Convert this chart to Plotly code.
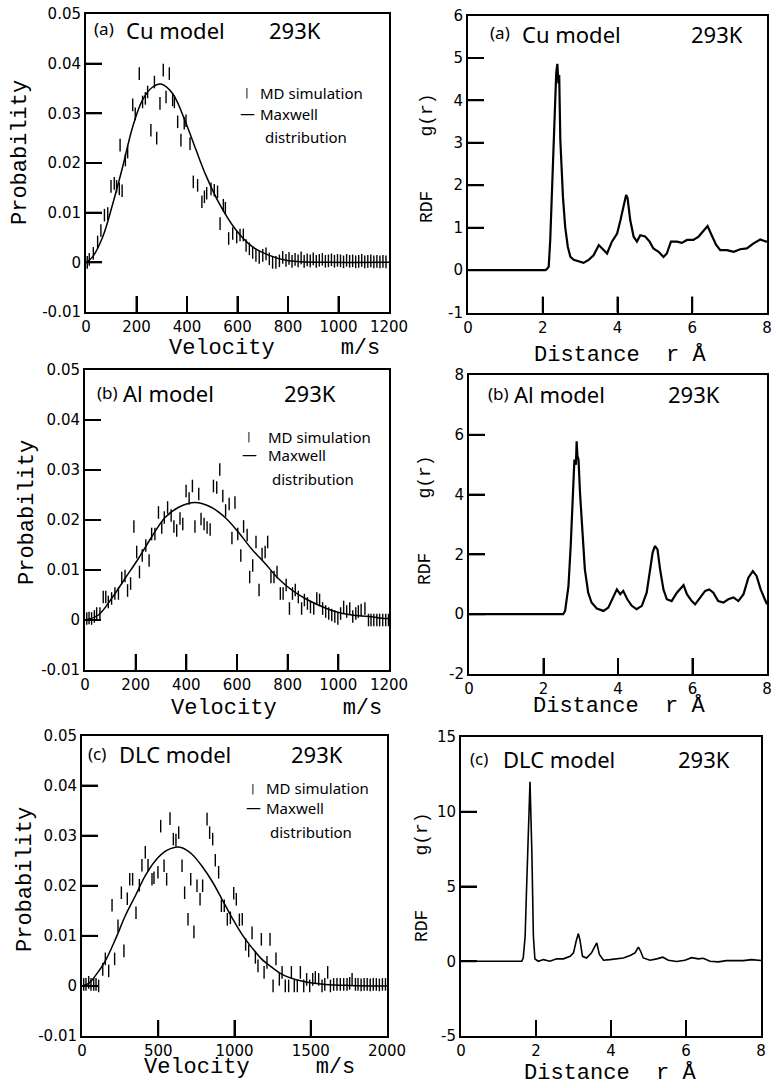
import plotly.graph_objects as go

W, H = 781, 1088

# ---------------- data: velocity distributions ----------------
cu_md_v = [5, 13, 29, 46, 59, 73, 86, 99, 112, 121, 132, 135, 143, 156, 165, 185, 195, 211, 224, 235,
           244, 257, 271, 280, 293, 306, 317, 330, 343, 350, 363, 376, 389, 396, 412, 425, 442, 459, 469, 478,
           495, 508, 521, 531, 544, 552, 565, 581, 597, 610, 623, 634, 647, 660, 673, 686, 700, 713, 726, 739,
           752, 766, 779, 792, 804, 816, 828, 840, 852, 864, 876, 888, 900, 912, 924, 936, 948, 960, 972, 984,
           996, 1008, 1020, 1032, 1044, 1056, 1068, 1080, 1092, 1104, 1116, 1128, 1140, 1152, 1164, 1176, 1188]
cu_md_p = [0.0, 0.0006, 0.0018, 0.0041, 0.0064, 0.0095, 0.0098, 0.0153, 0.0159, 0.0153,
           0.0148, 0.0236, 0.0144, 0.0206, 0.0222, 0.0317, 0.0299, 0.0380, 0.0323, 0.0330,
           0.0343, 0.0266, 0.0363, 0.0250, 0.0320, 0.0387, 0.0333, 0.0380, 0.0327, 0.0323,
           0.0283, 0.0246, 0.0280, 0.0285, 0.0239, 0.0162, 0.0155, 0.0122, 0.0132, 0.0139,
           0.0148, 0.0145, 0.0142, 0.0078, 0.0115, 0.0109, 0.0048, 0.0058, 0.0051, 0.0055,
           0.0055, 0.0034, 0.0027, 0.0020, 0.0014, 0.0010, 0.0014, 0.0017, 0.0007, 0.0000,
           0.0000, 0.0003, 0.0010,
           0.0004, 0.0008, 0.0002, 0.0006, 0.0003, 0.0009, 0.0002, 0.0005, 0.0003, 0.0007,
           0.0002, 0.0004, 0.0006, 0.0002, 0.0003, 0.0005, 0.0002, 0.0004, 0.0003, 0.0001,
           0.0004, 0.0002, 0.0003, 0.0001, 0.0002, 0.0004, 0.0001, 0.0002, 0.0003, 0.0001,
           0.0002, 0.0001, 0.0002, 0.0001]
cu_mx_v = [0, 26, 66, 106, 145, 185, 224, 264, 297, 343, 396, 436, 475, 528, 594, 660, 726, 792, 850, 950, 1200]
cu_mx_p = [0, 0.0011, 0.0051, 0.0118, 0.0192, 0.0273, 0.0327, 0.0353, 0.0359, 0.0340, 0.0280,
           0.0226, 0.0175, 0.0118, 0.0065, 0.0031, 0.0014, 0.0004, 0.0001, 0.0, 0.0]

al_md_v = [7, 16, 26, 37, 46, 59, 72, 82, 92, 105, 118, 132, 145, 158, 168, 180, 193, 204, 215, 226,
           240, 253, 263, 276, 290, 303, 313, 326, 340, 351, 362, 375, 386, 399, 411, 424, 434, 449, 458, 470,
           482, 494, 507, 520, 532, 544, 555, 569, 580, 592, 603, 615, 626, 640, 650, 662, 675, 687, 699, 711,
           721, 734, 746, 758, 771, 782, 794, 807, 819, 830, 842, 855, 866, 878, 890, 903, 915, 926, 938, 950,
           962, 974, 986, 998, 1009, 1021, 1033, 1045, 1057, 1069, 1079, 1090, 1105, 1119, 1129, 1140, 1152,
           1163, 1175, 1187, 1198]
al_md_p = [0.0003, 0.0004, 0.0003, 0.0007, 0.0013, 0.0013, 0.0046, 0.0046, 0.0036, 0.0043,
           0.0053, 0.0053, 0.0084, 0.0088, 0.0059, 0.0073, 0.0187, 0.0136, 0.0096, 0.0129,
           0.0149, 0.0119, 0.0172, 0.0172, 0.0215, 0.0185, 0.0205, 0.0225, 0.0209, 0.0187,
           0.0179, 0.0203, 0.0192, 0.0258, 0.0243, 0.0268, 0.0187, 0.0252, 0.0202, 0.0192,
           0.0185, 0.0181, 0.0268, 0.0265, 0.0301, 0.0248, 0.0219, 0.0232, 0.0164, 0.0235,
           0.0172, 0.0129, 0.0187, 0.0170, 0.0086, 0.0109, 0.0156, 0.0060, 0.0132, 0.0136,
           0.0156, 0.0086, 0.0086, 0.0096, 0.0053, 0.0053, 0.0070, 0.0023, 0.0053, 0.0060,
           0.0046, 0.0023, 0.0040, 0.0033, 0.0026, 0.0023, 0.0043, 0.0040, 0.0023, 0.0017,
           0.0013, 0.0010, 0.0007, 0.0003, 0.0013, 0.0026, 0.0017, 0.0023, 0.0007, 0.0013,
           0.0017, 0.0020, 0.0023, 0.0000, 0.0000, 0.0000, 0.0000, 0.0000, 0.0000, 0.0000, 0.0000]
al_mx_v = [0, 53, 105, 158, 211, 263, 316, 368, 434, 500, 553, 605, 658, 711, 763, 816, 869, 921,
           987, 1053, 1119, 1184, 1200]
al_mx_p = [0, 0.0010, 0.0043, 0.0083, 0.0123, 0.0166, 0.0205, 0.0225, 0.0235, 0.0225, 0.0205,
           0.0176, 0.0142, 0.0113, 0.0083, 0.0060, 0.0043, 0.0030, 0.0017, 0.0010, 0.0007, 0.0003, 0.0003]

dlc_md_v = [11, 26, 44, 59, 77, 92, 109, 136, 153, 175, 197, 214, 236, 258, 275, 297, 313, 332, 354, 376,
            393, 415, 433, 459, 472, 498, 516, 538, 555, 577, 599, 616, 634, 656, 673, 695, 713, 734, 754, 774,
            791, 820, 837, 857, 874, 896, 914, 933, 953, 973, 995, 1012, 1032, 1051, 1073, 1093, 1115, 1137,
            1154, 1176, 1194, 1213, 1233, 1253, 1272, 1294, 1312, 1333, 1355, 1373, 1392, 1412, 1432, 1454,
            1473, 1493, 1513, 1530, 1552, 1574, 1592, 1611, 1629, 1650, 1672, 1694, 1716, 1738, 1755, 1771,
            1793, 1810, 1830, 1850, 1870, 1890, 1910, 1930, 1950, 1970, 1990]
dlc_md_p = [0.0003, 0.0003, 0.0007, 0.0003, 0.0003, 0.0003, 0.0000, 0.0033, 0.0054, 0.0030,
            0.0161, 0.0054, 0.0120, 0.0186, 0.0070, 0.0174, 0.0213, 0.0213, 0.0146, 0.0201,
            0.0241, 0.0267, 0.0241, 0.0213, 0.0216, 0.0227, 0.0319, 0.0240, 0.0213, 0.0334,
            0.0293, 0.0291, 0.0306, 0.0240, 0.0186, 0.0133, 0.0213, 0.0108, 0.0200, 0.0173,
            0.0200, 0.0333, 0.0306, 0.0293, 0.0251, 0.0227, 0.0160, 0.0160, 0.0133, 0.0136,
            0.0185, 0.0173, 0.0132, 0.0133, 0.0083, 0.0070, 0.0106, 0.0057, 0.0040, 0.0093,
            0.0027, 0.0047, 0.0093, 0.0000, 0.0054, 0.0013, 0.0027, 0.0000, 0.0000, 0.0027,
            0.0000, 0.0000, 0.0027, 0.0000, 0.0013, 0.0000, 0.0013, 0.0017, 0.0013, 0.0000,
            0.0003, 0.0027, 0.0000, 0.0003, 0.0003, 0.0003, 0.0003, 0.0003, 0.0005, 0.0013,
            0.0003, 0.0003, 0.0002, 0.0003, 0.0003, 0.0002, 0.0003, 0.0003, 0.0002, 0.0003, 0.0003]
dlc_mx_v = [0, 44, 87, 153, 219, 284, 350, 415, 481, 547, 612, 656, 721, 787, 853, 918, 984, 1049,
            1115, 1180, 1246, 1312, 1399, 1486, 1596, 1749, 2000]
dlc_mx_p = [0, 0.0005, 0.0020, 0.0050, 0.0093, 0.0140, 0.0180, 0.0220, 0.0250, 0.0269, 0.0277,
            0.0276, 0.0263, 0.0239, 0.0209, 0.0173, 0.0136, 0.0103, 0.0076, 0.0053, 0.0037, 0.0023,
            0.0013, 0.0007, 0.0003, 0.0001, 0.0]

# ---------------- data: radial distribution functions ----------------
cu_r = [0, 2.07, 2.11, 2.16, 2.2, 2.25, 2.31, 2.36, 2.39, 2.42, 2.44, 2.47, 2.54, 2.6, 2.67, 2.74, 2.83,
        2.96, 3.09, 3.23, 3.36, 3.5, 3.59, 3.72, 3.85, 3.99, 4.08, 4.17, 4.23, 4.27, 4.34, 4.43, 4.52, 4.61,
        4.74, 4.86, 4.96, 5.1, 5.23, 5.32, 5.43, 5.59, 5.72, 5.86, 6.03, 6.17, 6.3, 6.41, 6.52, 6.64, 6.75,
        6.93, 7.11, 7.28, 7.46, 7.64, 7.82, 7.97, 8.0]
cu_g = [0, 0, 0.02, 0.08, 0.71, 1.89, 3.22, 4.64, 4.86, 4.4, 4.6, 3.07, 1.73, 1.02, 0.55, 0.31, 0.24,
        0.2, 0.17, 0.24, 0.35, 0.59, 0.51, 0.39, 0.67, 0.86, 1.18, 1.57, 1.77, 1.69, 1.18, 0.79, 0.67, 0.82,
        0.79, 0.67, 0.51, 0.43, 0.31, 0.39, 0.67, 0.67, 0.64, 0.71, 0.71, 0.79, 0.94, 1.04, 0.82, 0.59, 0.47,
        0.47, 0.43, 0.49, 0.51, 0.63, 0.72, 0.67, 0.68]

al_r = [0, 2.53, 2.58, 2.67, 2.73, 2.78, 2.83, 2.87, 2.89, 2.91, 2.94, 2.98, 3.05, 3.11, 3.2, 3.29, 3.43,
        3.61, 3.74, 3.86, 3.97, 4.06, 4.14, 4.25, 4.37, 4.5, 4.64, 4.77, 4.86, 4.93, 4.99, 5.06, 5.13, 5.22,
        5.31, 5.44, 5.58, 5.69, 5.76, 5.85, 5.98, 6.07, 6.2, 6.34, 6.45, 6.56, 6.69, 6.83, 6.96, 7.1, 7.23,
        7.37, 7.5, 7.62, 7.72, 7.83, 7.94, 8.0]
al_g = [0, 0, 0.11, 0.94, 2.28, 4.06, 5.17, 5.0, 5.78, 5.3, 5.17, 4.06, 2.5, 1.5, 0.72, 0.39, 0.19,
        0.11, 0.22, 0.56, 0.83, 0.67, 0.78, 0.5, 0.28, 0.17, 0.28, 0.72, 1.39, 2.06, 2.28, 2.17, 1.5, 0.83,
        0.5, 0.44, 0.72, 0.89, 0.97, 0.67, 0.44, 0.33, 0.56, 0.78, 0.83, 0.72, 0.44, 0.39, 0.5, 0.56, 0.44,
        0.67, 1.22, 1.44, 1.28, 0.83, 0.5, 0.33]

dlc_r = [0, 1.62, 1.66, 1.71, 1.75, 1.8, 1.84, 1.89, 1.93, 1.97, 2.06, 2.2, 2.37, 2.55, 2.73, 2.91, 3.0,
         3.07, 3.13, 3.17, 3.24, 3.35, 3.48, 3.57, 3.62, 3.69, 3.8, 3.97, 4.15, 4.33, 4.51, 4.64, 4.73, 4.79,
         4.86, 5.04, 5.22, 5.38, 5.53, 5.75, 5.97, 6.15, 6.33, 6.46, 6.64, 6.86, 7.08, 7.3, 7.53, 7.75, 7.93, 8.0]
dlc_g = [0, 0, 0.22, 1.67, 5.0, 9.47, 12.0, 7.24, 1.67, 0.16, 0, 0.11, 0, 0.16, 0.16, 0.33, 0.56,
         1.34, 1.85, 1.45, 0.33, 0.22, 0.56, 1.0, 1.23, 0.45, 0.07, 0.11, 0.16, 0.22, 0.38, 0.56, 0.94, 0.67,
         0.22, 0.07, 0.16, 0.27, 0.07, -0.02, 0.07, 0.24, 0.16, 0.2, 0, -0.04, 0.04, 0.02, 0.04, 0.11, 0.07, 0.05]

# tick labels
prob_ticks = [-0.01, 0, 0.01, 0.02, 0.03, 0.04, 0.05]
prob_text = ["-0.01", "0", "0.01", "0.02", "0.03", "0.04", "0.05"]
vel_ticks_12 = [0, 200, 400, 600, 800, 1000, 1200]
vel_ticks_20 = [0, 500, 1000, 1500, 2000]
r_ticks = [0, 2, 4, 6, 8]

# ---------------- figure ----------------
fig = go.Figure()


def px_x(p):
    return p / W


def px_y(p):
    return 1 - p / H


# panel frames (pixel boxes: left, right, top, bottom)
boxes = {
    1: (86, 389, 14, 312),
    2: (468, 767, 15.5, 312.5),
    3: (85, 389, 370, 670),
    4: (469, 767, 375, 674),
    5: (82, 387, 735.5, 1036),
    6: (461, 761, 737, 1036),
}

tickfont = dict(family="DejaVu Sans", size=15, color="black")
base = dict(showline=True, linewidth=2, linecolor="black", mirror=True,
            ticks="inside", ticklen=16, tickwidth=2, tickcolor="black", tickmode="array",
            showgrid=False, zeroline=False, tickfont=tickfont, layer="above traces")

ranges = {
    1: ([0, 1200], vel_ticks_12, [-0.01, 0.05], prob_ticks, prob_text),
    2: ([0, 8], r_ticks, [-1, 6], [-1, 0, 1, 2, 3, 4, 5, 6], None),
    3: ([0, 1200], vel_ticks_12, [-0.01, 0.05], prob_ticks, prob_text),
    4: ([0, 8], r_ticks, [-2, 8], [-2, 0, 2, 4, 6, 8], None),
    5: ([0, 2000], vel_ticks_20, [-0.01, 0.05], prob_ticks, prob_text),
    6: ([0, 8], r_ticks, [-5, 15], [-5, 0, 5, 10, 15], None),
}

TICK_PX = 16


def axes_of(i):
    return ("x", "y") if i == 1 else (f"x{i}", f"y{i}")


for i, (l, r, t, b) in boxes.items():
    xr, xt, yr, yt, ytt = ranges[i]
    xn = "xaxis" if i == 1 else f"xaxis{i}"
    yn = "yaxis" if i == 1 else f"yaxis{i}"
    fig.layout[xn] = dict(base, domain=[px_x(l), px_x(r)], range=xr, tickvals=xt,
                          ticktext=[str(v) for v in xt], anchor="y" if i == 1 else f"y{i}")
    fig.layout[yn] = dict(base, domain=[px_y(b), px_y(t)], range=yr, tickvals=yt,
                          ticktext=ytt if ytt else [str(v) for v in yt], anchor="x" if i == 1 else f"x{i}")
    # inward tick marks drawn along the bottom and left frame at the tick values
    xa, ya = axes_of(i)
    for v in xt[1:-1]:
        fig.add_shape(type="line", xref=xa, yref=f"{ya} domain", x0=v, x1=v, y0=0,
                      y1=TICK_PX / (b - t), line=dict(color="black", width=2), layer="above")
    for v in yt[1:-1]:
        fig.add_shape(type="line", yref=ya, xref=f"{xa} domain", y0=v, y1=v, x0=0,
                      x1=TICK_PX / (r - l), line=dict(color="black", width=2), layer="above")

md_marker = dict(symbol="line-ns", size=9, color="black", line=dict(color="black", width=1.4))


def add_velocity(i, mdv, mdp, mxv, mxp):
    xa, ya = axes_of(i)
    fig.add_trace(go.Scatter(x=mdv, y=mdp, mode="markers", marker=md_marker, xaxis=xa, yaxis=ya,
                             showlegend=False, name="MD simulation"))
    fig.add_trace(go.Scatter(x=mxv, y=mxp, mode="lines", line=dict(color="black", width=1.5, shape="spline"),
                             xaxis=xa, yaxis=ya, showlegend=False, name="Maxwell distribution"))


def add_rdf(i, r, g, w):
    xa, ya = axes_of(i)
    fig.add_trace(go.Scatter(x=r, y=g, mode="lines", line=dict(color="black", width=w),
                             xaxis=xa, yaxis=ya, showlegend=False, name="g(r)"))


add_velocity(1, cu_md_v, cu_md_p, cu_mx_v, cu_mx_p)
add_rdf(2, cu_r, cu_g, 2.2)
add_velocity(3, al_md_v, al_md_p, al_mx_v, al_mx_p)
add_rdf(4, al_r, al_g, 2.2)
add_velocity(5, dlc_md_v, dlc_md_p, dlc_mx_v, dlc_mx_p)
add_rdf(6, dlc_r, dlc_g, 1.6)

SANS = "Noto Sans"
MONO = "Liberation Mono"
NB = "\u00a0"


def ann(x, y, text, size, family=SANS, xanchor="left", angle=0):
    fig.add_annotation(x=px_x(x), y=px_y(y), xref="paper", yref="paper", text=text,
                       showarrow=False, xanchor=xanchor, yanchor="middle", textangle=angle,
                       font=dict(family=family, size=size, color="black"))


# panel labels
labels = [
    (92, 124, 267, 29, "(a)", "Cu model"),
    (488, 520, 689, 33, "(a)", "Cu model"),
    (95, 121, 282, 392, "(b)", "Al model"),
    (486, 512, 666, 393, "(b)", "Al model"),
    (86, 117, 289, 753, "(c)", "DLC model"),
    (468, 501, 676, 758, "(c)", "DLC model"),
]
for xa, xb, xc, y, tag, name in labels:
    ann(xa, y, tag, 17)
    ann(xb, y + 1, name, 22)
    ann(xc, y + 1, "293K", 22)

# legends (left panels)
legends = [(247, 93, 114, 137, 238, 258, 263), (249, 437, 455, 479, 240, 266, 270),
           (253, 788, 808, 832, 244, 264, 268)]
for mx, y1, y2, y3, lx, tx, dx in legends:
    ann(mx, y1, "|", 11, family="DejaVu Sans", xanchor="center")
    ann(tx, y1, "MD simulation", 15)
    ann(lx, y2, "\u2014", 15, family="DejaVu Sans")
    ann(tx, y2, "Maxwell", 15)
    ann(dx, y3, "distribution", 15)

# axis titles
vel_title = "Velocity" + NB * 5 + "m/s"
ann(274, 348, vel_title, 22, family=MONO, xanchor="center")
ann(276, 708, vel_title, 22, family=MONO, xanchor="center")
ann(249, 1067, vel_title, 22, family=MONO, xanchor="center")

dist_title = "Distance" + NB * 2 + "r" + NB + "\u00c5"
ann(620, 355, dist_title, 22, family=MONO, xanchor="center")
ann(619, 706, dist_title, 22, family=MONO, xanchor="center")
ann(610, 1073, dist_title, 22, family=MONO, xanchor="center")

prob_title = "Probability"
ann(20, 153, prob_title, 22, family=MONO, xanchor="center", angle=-90)
ann(28, 513, prob_title, 22, family=MONO, xanchor="center", angle=-90)
ann(25, 880, prob_title, 22, family=MONO, xanchor="center", angle=-90)

rdf_title = "RDF" + NB * 5 + "g(r)"
ann(427, 158, rdf_title, 18, family=MONO, xanchor="center", angle=-90)
ann(425, 520, rdf_title, 18, family=MONO, xanchor="center", angle=-90)
ann(422, 877, rdf_title, 18, family=MONO, xanchor="center", angle=-90)

fig.update_layout(template="none", width=W, height=H, margin=dict(l=0, r=0, t=0, b=0),
                  paper_bgcolor="white", plot_bgcolor="white", showlegend=False)

fig.write_html("out.html", post_script="document.body.style.margin='0px';",
               config={"displayModeBar": False})
